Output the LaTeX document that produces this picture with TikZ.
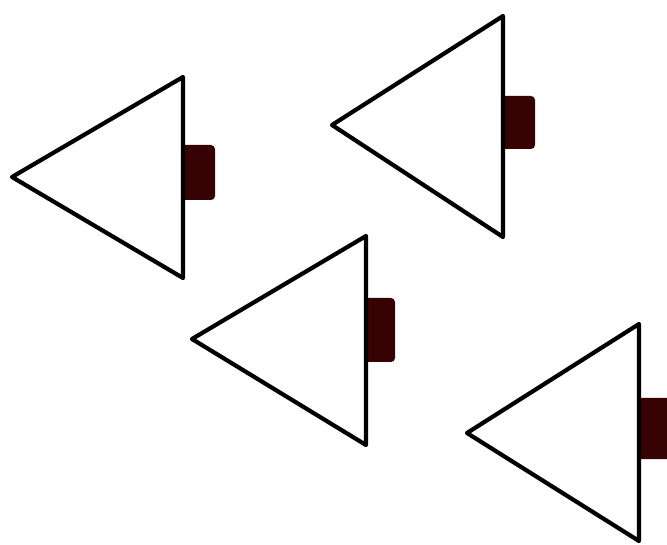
\documentclass[tikz,border=0pt]{standalone}
\definecolor{plug}{RGB}{55,2,4}
\tikzset{
  tri/.style={draw=black, line width=4.2pt, line join=round, fill=white},
  plugbox/.style={fill=plug, rounded corners=4pt}
}
\begin{document}
\begin{tikzpicture}[x=1pt,y=-1pt]
\useasboundingbox (0,0) rectangle (667,545);
% each: tip x, tip y, right x, top y, bottom y, box top, box bottom, box right
\foreach \tx/\ty/\rx/\top/\bot/\bt/\bb/\br in {
  12/177/183/77/278/145/200/215,
  332/125/503/16/237/96/149/535,
  192/339/366/236/445/298/362/395,
  467/433/639/324/541/398/459/672}{
  \fill[plugbox] (\rx-4,\bt) rectangle (\br,\bb);
  \draw[tri] (\tx,\ty) -- (\rx,\top) -- (\rx,\bot) -- cycle;
}
\end{tikzpicture}
\end{document}
